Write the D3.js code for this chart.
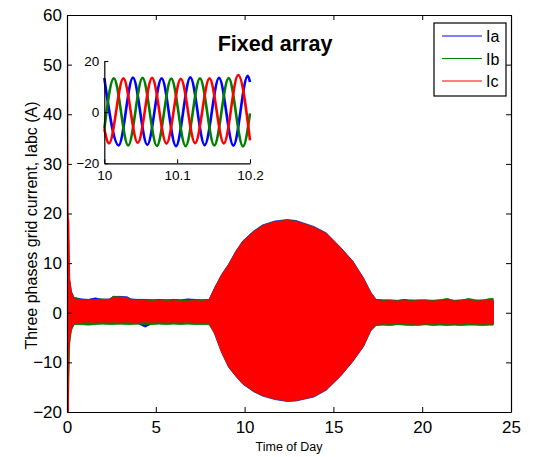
<!DOCTYPE html>
<html>
<head>
<meta charset="utf-8">
<script src="https://cdn.jsdelivr.net/npm/d3@7"></script>
<style>
  html, body { margin: 0; padding: 0; background: #fff; }
  text { font-family: "Liberation Sans", Arial, Helvetica, sans-serif; fill: #000; }
</style>
</head>
<body>
<svg id="chart" width="536" height="457"></svg>
<script>
// ---- Envelope of the three grid currents over the day (hours) ----
const timeKnots = [0, 0.03, 0.06, 0.1, 0.15, 0.25, 0.4, 0.8, 1.2, 1.6, 2.0, 2.4, 2.6, 3.0, 3.4, 3.6, 4.0, 4.4, 4.8, 5.2,
  5.6, 6.0, 6.4, 6.8, 7.2, 7.6, 8.0, 8.3, 8.7, 9.1, 9.5, 9.9, 10.5, 11.0, 11.7, 12.4, 12.9, 13.9, 14.6, 15.4,
  16.1, 16.7, 17.1, 17.4, 17.8, 18.2, 18.6, 19.0, 19.4, 19.8, 20.2, 20.6, 21.0, 21.4, 21.8, 22.2, 22.6, 23.0, 23.4, 23.8, 24.0];

const iaUpper = [20, 20, 19.0, 8.0, 6.8, 4.3, 3.1, 2.8, 2.7, 3.0, 2.7, 2.8, 3.3, 3.3, 3.2, 2.8, 2.7, 2.7, 2.6, 2.7,
  2.6, 2.7, 2.6, 2.8, 2.7, 2.6, 2.7, 5.0, 7.7, 9.8, 12.4, 14.5, 16.45, 17.7, 18.5, 18.8, 18.6, 17.4, 16.1, 13.2,
  10.4, 7.0, 4.2, 2.7, 2.6, 2.6, 2.5, 2.7, 2.5, 2.6, 2.6, 2.5, 2.6, 2.6, 2.5, 2.6, 2.7, 2.5, 2.6, 2.6, 2.6];
const iaLower = [-20, -20, -20, -9, -5.5, -3.3, -2.3, -2.2, -2.1, -2.2, -2.1, -2.2, -2.1, -2.2, -2.1, -2.2, -2.2, -2.9, -2.2, -2.1,
  -2.2, -2.1, -2.2, -2.1, -2.2, -2.2, -2.2, -4.2, -8.0, -11.0, -12.8, -14.4, -15.9, -16.8, -17.5, -17.9, -17.8, -17.0, -15.6, -12.8,
  -9.8, -6.8, -3.7, -2.5, -2.4, -2.4, -2.3, -2.4, -2.4, -2.5, -2.4, -2.4, -2.3, -2.4, -2.4, -2.4, -2.3, -2.4, -2.4, -2.4, -2.4];

const ibUpper = [20, 20, 18.5, 8.0, 6.6, 4.2, 3.0, 2.7, 2.6, 2.7, 2.8, 2.7, 3.3, 3.2, 3.1, 2.7, 2.6, 2.6, 2.6, 2.6,
  2.6, 2.6, 2.6, 2.6, 2.6, 2.6, 2.6, 4.9, 7.6, 9.7, 12.3, 14.4, 16.35, 17.6, 18.4, 18.7, 18.5, 17.3, 16.0, 13.1,
  10.3, 6.9, 4.1, 2.6, 2.5, 2.5, 2.5, 2.5, 2.6, 2.5, 2.5, 2.5, 2.6, 2.9, 2.5, 2.5, 2.9, 2.6, 2.5, 2.9, 2.9];
const ibLower = [-20, -20, -20, -15, -6.5, -3.6, -2.4, -2.4, -2.5, -2.4, -2.3, -2.4, -2.4, -2.3, -2.4, -2.4, -2.3, -2.4, -2.4, -2.3,
  -2.4, -2.3, -2.4, -2.3, -2.4, -2.4, -2.4, -4.1, -7.9, -10.9, -12.7, -14.3, -15.8, -16.7, -17.4, -17.8, -17.7, -16.9, -15.5, -12.7,
  -9.7, -6.7, -3.6, -2.6, -2.5, -2.6, -2.4, -2.5, -2.6, -2.5, -2.4, -2.6, -2.5, -2.6, -2.5, -2.6, -2.5, -2.5, -2.6, -2.5, -2.5];

const icUpper = [54.5, 54.5, 19.5, 18.5, 6.5, 4.0, 2.8, 2.5, 2.4, 2.5, 2.4, 2.5, 3.1, 3.1, 2.9, 2.5, 2.4, 2.4, 2.3, 2.4,
  2.3, 2.4, 2.3, 2.3, 2.4, 2.3, 2.5, 4.8, 7.5, 9.6, 12.2, 14.3, 16.2, 17.5, 18.3, 18.6, 18.4, 17.2, 15.9, 13.0,
  10.2, 6.8, 4.0, 2.5, 2.3, 2.4, 2.3, 2.4, 2.3, 2.4, 2.4, 2.3, 2.4, 2.5, 2.3, 2.4, 2.5, 2.3, 2.4, 2.4, 2.4];
const icLower = [-25, -25, -25, -8, -5, -3, -2.0, -1.9, -1.8, -1.9, -1.8, -1.9, -1.8, -1.9, -1.8, -1.9, -1.9, -1.8, -1.9, -1.8,
  -1.9, -1.8, -1.9, -1.8, -1.9, -1.9, -2.0, -4.0, -7.8, -10.8, -12.6, -14.2, -15.7, -16.6, -17.3, -17.7, -17.6, -16.8, -15.4, -12.6,
  -9.6, -6.6, -3.5, -2.3, -2.2, -2.2, -2.1, -2.2, -2.2, -2.3, -2.2, -2.2, -2.1, -2.2, -2.2, -2.2, -2.1, -2.2, -2.2, -2.2, -2.2];

const xTicks = [0, 5, 10, 15, 20, 25];
const yTicks = [-20, -10, 0, 10, 20, 30, 40, 50, 60];

// ---- Close-up of the waveforms between 10.0 h and 10.2 h (peaks and troughs) ----
const iaZoomT = [10.0, 10.0197, 10.0393, 10.0590, 10.0787, 10.0984, 10.1181, 10.1378, 10.1575, 10.1772, 10.1969, 10.2];
const iaZoomV = [13.3, -13.0, 13.5, -12.8, 13.2, -13.3, 13.6, -12.9, 13.4, -13.1, 14.2, 11.8];
const ibZoomT = [10.0, 10.0131, 10.0328, 10.0525, 10.0722, 10.0919, 10.1116, 10.1313, 10.1510, 10.1707, 10.1904, 10.2];
const ibZoomV = [-6.5, 13.2, -13.0, 13.4, -13.2, 13.1, -13.3, 13.2, -13.0, 13.3, -13.4, -0.5];
const icZoomT = [10.0, 10.0065, 10.0262, 10.0459, 10.0656, 10.0853, 10.1050, 10.1247, 10.1444, 10.1641, 10.1838, 10.2];
const icZoomV = [-6.6, -12.2, 13.2, -12.0, 13.4, -12.3, 13.0, -12.1, 13.2, -12.2, 14.5, -11.0];
const insetXTicks = [10, 10.1, 10.2];
const insetYTicks = [-20, 0, 20];

const seriesNames = ["Ia", "Ib", "Ic"];
const seriesColors = ["#0000ff", "#008000", "#ff0000"];

// ---- Main axes ----
const svg = d3.select("#chart");
const box = { left: 67, right: 511, top: 15, bottom: 412 };
const x = d3.scaleLinear().domain([0, 25]).range([box.left, box.right]);
const y = d3.scaleLinear().domain([-20, 60]).range([box.bottom, box.top]);

svg.append("defs").append("clipPath").attr("id", "plotClip")
  .append("rect").attr("x", box.left).attr("y", box.top)
  .attr("width", box.right - box.left).attr("height", box.bottom - box.top);

const bands = [
  { up: iaUpper, lo: iaLower },
  { up: ibUpper, lo: ibLower },
  { up: icUpper, lo: icLower }
];
const area = d3.area().x(d => x(d.t)).y0(d => y(d.lo)).y1(d => y(d.up)).curve(d3.curveLinear);
const plotG = svg.append("g").attr("clip-path", "url(#plotClip)");
bands.forEach((b, i) => {
  const pts = timeKnots.map((t, k) => ({ t, up: b.up[k], lo: b.lo[k] }));
  plotG.append("path").datum(pts).attr("d", area)
    .attr("fill", seriesColors[i]).attr("stroke", seriesColors[i])
    .attr("stroke-width", i === 2 ? 1.1 : 0.6);
});

// axes with inward ticks on all four sides
const tickLen = 5;
const axisBottom = d3.axisBottom(x).tickValues(xTicks).tickSizeInner(-tickLen).tickSizeOuter(0).tickPadding(9);
const axisTop = d3.axisTop(x).tickValues(xTicks).tickSizeInner(-tickLen).tickSizeOuter(0).tickFormat("");
const axisLeft = d3.axisLeft(y).tickValues(yTicks).tickSizeInner(-tickLen).tickSizeOuter(0).tickPadding(5);
const axisRight = d3.axisRight(y).tickValues(yTicks).tickSizeInner(-tickLen).tickSizeOuter(0).tickFormat("");

function styleAxis(g, fs) {
  g.select(".domain").attr("stroke", "#000").attr("stroke-width", 1.2);
  g.selectAll(".tick line").attr("stroke", "#000").attr("stroke-width", 1);
  g.selectAll(".tick text").attr("font-size", fs).attr("fill", "#000")
    .attr("font-family", "'Liberation Sans', Arial, sans-serif");
}
svg.append("g").attr("transform", `translate(0,${box.bottom})`).call(axisBottom).call(g => styleAxis(g, 17));
svg.append("g").attr("transform", `translate(0,${box.top})`).call(axisTop).call(g => styleAxis(g, 17));
svg.append("g").attr("transform", `translate(${box.left},0)`).call(axisLeft).call(g => styleAxis(g, 17));
svg.append("g").attr("transform", `translate(${box.right},0)`).call(axisRight).call(g => styleAxis(g, 17));

// axis titles and chart title
svg.append("text").attr("x", (box.left + box.right) / 2).attr("y", 451)
  .attr("text-anchor", "middle").attr("font-size", 12.5).text("Time of Day");
svg.append("text").attr("transform", `translate(37,${(box.top + box.bottom) / 2 + 12}) rotate(-90)`)
  .attr("text-anchor", "middle").attr("font-size", 16).text("Three phases grid current, Iabc (A)");
svg.append("text").attr("x", 275).attr("y", 51).attr("text-anchor", "middle")
  .attr("font-size", 21.5).attr("font-weight", "bold").text("Fixed array");

// legend
const leg = svg.append("g");
leg.append("rect").attr("x", 434).attr("y", 23).attr("width", 72).attr("height", 73)
  .attr("fill", "#fff").attr("stroke", "#000").attr("stroke-width", 1.2);
seriesNames.forEach((name, i) => {
  const ly = 36 + i * 22.5;
  leg.append("line").attr("x1", 442).attr("x2", 482).attr("y1", ly).attr("y2", ly)
    .attr("stroke", seriesColors[i]).attr("stroke-width", 1.2);
  leg.append("text").attr("x", 486).attr("y", ly + 6).attr("font-size", 16).text(name);
});

// ---- Inset ----
const ib = { left: 104.3, right: 250, top: 61, bottom: 163.3 };
const xi = d3.scaleLinear().domain([10, 10.2]).range([ib.left, ib.right]);
const yi = d3.scaleLinear().domain([-20, 20]).range([ib.bottom, ib.top]);
const inset = svg.append("g");
const zoomSeries = [
  { t: iaZoomT, v: iaZoomV },
  { t: ibZoomT, v: ibZoomV },
  { t: icZoomT, v: icZoomV }
];
const wave = d3.line().x(d => xi(d[0])).y(d => yi(d[1])).curve(d3.curveMonotoneX);
zoomSeries.forEach((s, i) => {
  inset.append("path").datum(s.t.map((t, k) => [t, s.v[k]])).attr("d", wave)
    .attr("fill", "none").attr("stroke", seriesColors[i]).attr("stroke-width", 2.6);
});
const insetTick = 4;
inset.append("g").attr("transform", `translate(0,${ib.bottom})`)
  .call(d3.axisBottom(xi).tickValues(insetXTicks).tickFormat(d3.format("")).tickSizeInner(-insetTick).tickSizeOuter(0).tickPadding(7))
  .call(g => styleAxis(g, 13.5));
inset.append("g").attr("transform", `translate(${ib.left},0)`)
  .call(d3.axisLeft(yi).tickValues(insetYTicks).tickSizeInner(-insetTick).tickSizeOuter(0).tickPadding(5))
  .call(g => styleAxis(g, 13.5));
</script>
</body>
</html>
